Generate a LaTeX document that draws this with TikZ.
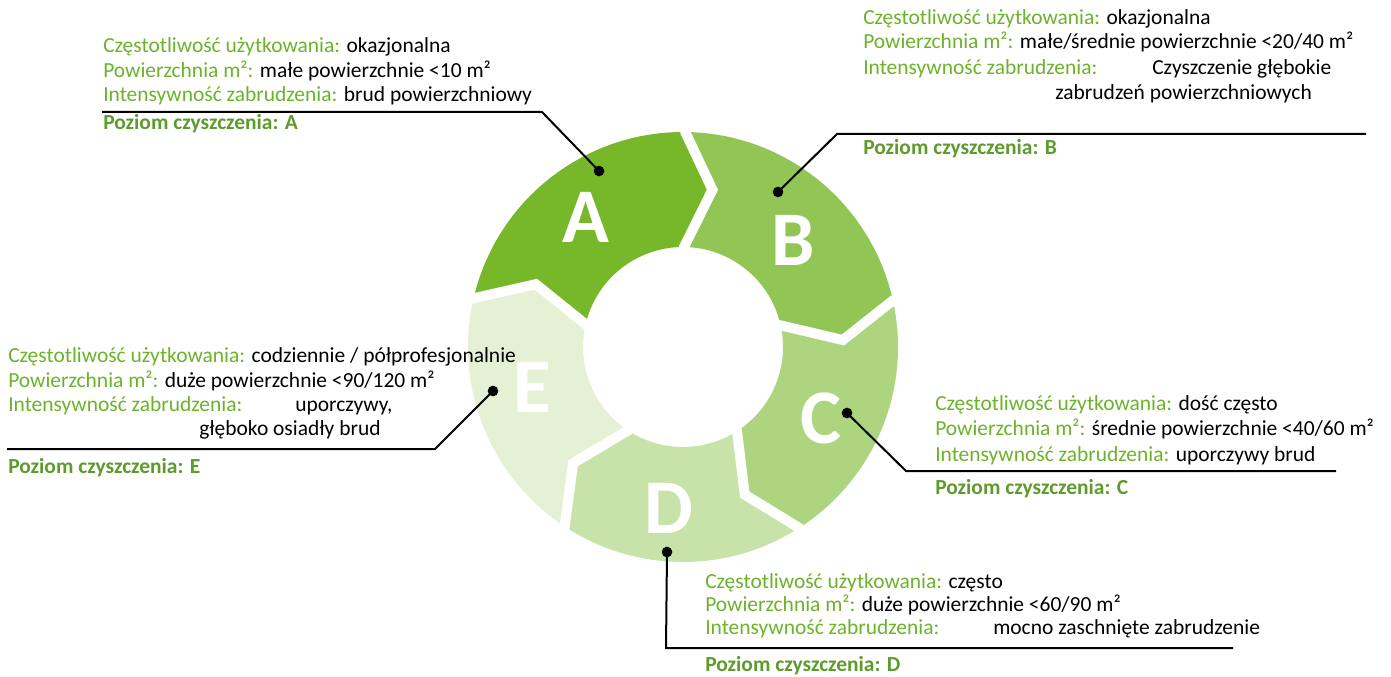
\documentclass[tikz,border=0pt]{standalone}
\usepackage{fontspec}
\setmainfont{Carlito}
\definecolor{ringA}{RGB}{118,184,42}
\colorlet{ringB}{ringA!80!white}
\colorlet{ringC}{ringA!60!white}
\colorlet{ringD}{ringA!40!white}
\colorlet{ringE}{ringA!20!white}
\definecolor{fieldgreen}{RGB}{108,178,42}
\definecolor{levelgreen}{RGB}{94,154,44}
\newcommand{\fld}[1]{\textcolor{fieldgreen}{#1}}

\begin{document}
\begin{tikzpicture}[x=0.75pt,y=0.75pt,yscale=-1,xscale=1,
    txt/.style={anchor=base west,inner sep=0pt,font=\fontsize{16.1}{19}\selectfont},
    level/.style={txt,text=levelgreen,font=\fontsize{16.1}{19}\selectfont\bfseries},
    letter/.style={text=white,inner sep=0pt,font=\fontsize{58}{60}\selectfont\bfseries},
    gap/.style={white,line width=7.5pt,line join=miter},
    leader/.style={line width=1.5pt},
    dot/.style={circle,fill=black,inner sep=0pt,minimum size=8pt}]
        \useasboundingbox (0,0) rectangle (1391,677);
        %Ring segments
        \begin{scope}[shift={(683,347)}]
        \foreach \s/\e/\c in {-166.9/-89.4/ringA,-89.4/-12.5/ringB,-12.5/57.3/ringC,57.3/123.4/ringD,123.4/193.1/ringE}{
            \fill[\c] (\s:215) arc[start angle=\s,end angle=\e,radius=215] -- (\e+10:160) -- (\e:100) arc[start angle=\e,end angle=\s,radius=100] -- (\s+10:160) -- cycle;
        }
        \foreach \e in {-166.9,-89.4,-12.5,57.3,123.4}{
            \draw[gap] (\e:226) -- (\e:215) -- (\e+10:160) -- (\e:100) -- (\e:89);
        }
        \end{scope}
        % Letters
        \node[letter] (lA) at (586,217) {A};
        \node[letter] (lB) at (793,240) {B};
        \node[letter] (lC) at (821,418) {C};
        \node[letter] (lD) at (669,508) {D};
        \node[letter] (lE) at (532,387) {E};
        % Dots
        \node[dot] (dA) at (599,171) {};
        \node[dot] (dB) at (778,192) {};
        \node[dot] (dC) at (847,413) {};
        \node[dot] (dD) at (667,552) {};
        \node[dot] (dE) at (493,391) {};
        %Straight Lines
        \coordinate (kA) at (542,112); \coordinate (eA) at (102,112);
        \coordinate (kB) at (837,134); \coordinate (eB) at (1366,134);
        \coordinate (kC) at (906,471); \coordinate (eC) at (1336,471);
        \coordinate (kD) at (666,648); \coordinate (eD) at (1233,648);
        \coordinate (kE) at (435,449); \coordinate (eE) at (7,449);
        \draw[leader] (dA.center) -- (kA) -- (eA);
        \draw[leader] (dB.center) -- (kB) -- (eB);
        \draw[leader] (dC.center) -- (kC) -- (eC);
        \draw[leader] (dD.center) -- (kD) -- (eD);
        \draw[leader] (dE.center) -- (kE) -- (eE);
        % Text Node
        \node[txt] (a1) at (103,53) {\fld{Częstotliwość użytkowania:} okazjonalna};
        \node[txt] (a2) at (103,78) {\fld{Powierzchnia m²:} małe powierzchnie <10 m²};
        \node[txt] (a3) at (103,102) {\fld{Intensywność zabrudzenia:} brud powierzchniowy};
        \node[level] (a4) at (103,130) {Poziom czyszczenia: A};
        % Text Node
        \node[txt] (b1) at (863,25) {\fld{Częstotliwość użytkowania:} okazjonalna};
        \node[txt] (b2) at (863,49) {\fld{Powierzchnia m²:} małe/średnie powierzchnie <20/40 m²};
        \node[txt] (b3) at (863,75) {\fld{Intensywność zabrudzenia:}};
        \node[txt] (b4) at (1152,75) {Czyszczenie głębokie};
        \node[txt] (b5) at (1055,100) {zabrudzeń powierzchniowych};
        \node[level] (b6) at (863,155) {Poziom czyszczenia: B};
        % Text Node
        \node[txt] (c1) at (935,410) {\fld{Częstotliwość użytkowania:} dość często};
        \node[txt] (c2) at (935,435) {\fld{Powierzchnia m²:} średnie powierzchnie <40/60 m²};
        \node[txt] (c3) at (935,461) {\fld{Intensywność zabrudzenia:} uporczywy brud};
        \node[level] (c4) at (935,494) {Poziom czyszczenia: C};
        % Text Node
        \node[txt] (d1) at (705,588) {\fld{Częstotliwość użytkowania:} często};
        \node[txt] (d2) at (705,611) {\fld{Powierzchnia m²:} duże powierzchnie <60/90 m²};
        \node[txt] (d3) at (705,634) {\fld{Intensywność zabrudzenia:}};
        \node[txt] (d4) at (993,634) {mocno zaschnięte zabrudzenie};
        \node[level] (d5) at (705,671) {Poziom czyszczenia: D};
        % Text Node
        \node[txt] (e1) at (8,362) {\fld{Częstotliwość użytkowania:} codziennie / półprofesjonalnie};
        \node[txt] (e2) at (8,387) {\fld{Powierzchnia m²:} duże powierzchnie <90/120 m²};
        \node[txt] (e3) at (8,411) {\fld{Intensywność zabrudzenia:}};
        \node[txt] (e4) at (295,411) {uporczywy,};
        \node[txt] (e5) at (199,435) {głęboko osiadły brud};
        \node[level] (e6) at (8,473) {Poziom czyszczenia: E};
\end{tikzpicture}
\end{document}
